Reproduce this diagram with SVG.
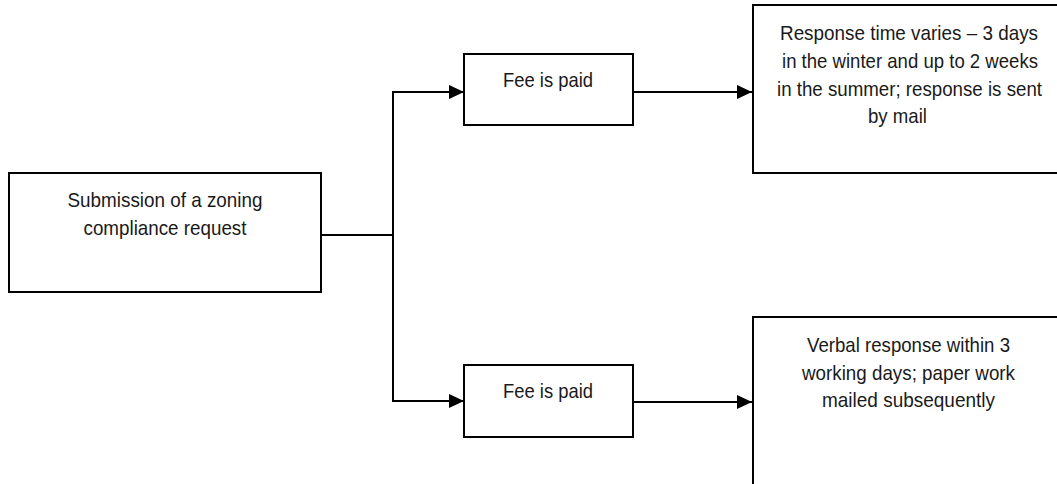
<svg xmlns="http://www.w3.org/2000/svg" width="1057" height="484" viewBox="0 0 1057 484">
<style>
.box{fill:#fff;stroke:#000;stroke-width:2}
.t{font-family:"Liberation Sans",Arial,sans-serif;font-size:21px;fill:#1a1a1a;text-anchor:middle}
.c{fill:none;stroke:#000;stroke-width:2}
</style>
<defs>
<marker id="ah" markerWidth="15" markerHeight="14" viewBox="0 0 15 14" refX="15" refY="7" orient="auto" markerUnits="userSpaceOnUse">
<path d="M0,0 L15,7 L0,14 Z" fill="#000"/>
</marker>
</defs>
<rect width="1057" height="484" fill="#fff"/>
<g id="connectors">
<path class="c" d="M321,235 H393"/>
<path class="c" d="M393,91 V402"/>
<path class="c" d="M393,92 H464" marker-end="url(#ah)"/>
<path class="c" d="M393,401 H464" marker-end="url(#ah)"/>
<path class="c" d="M633,92 H752" marker-end="url(#ah)"/>
<path class="c" d="M633,402 H752" marker-end="url(#ah)"/>
</g>
<g id="submission">
<rect class="box" x="9" y="173" width="312" height="119"/>
<text class="t" x="165" y="207" textLength="195" lengthAdjust="spacingAndGlyphs">Submission of a zoning</text>
<text class="t" x="165" y="235" textLength="163" lengthAdjust="spacingAndGlyphs">compliance request</text>
</g>
<g id="fee1">
<rect class="box" x="464" y="54" width="169" height="71"/>
<text class="t" x="548" y="87" textLength="90" lengthAdjust="spacingAndGlyphs">Fee is paid</text>
</g>
<g id="fee2">
<rect class="box" x="464" y="365" width="169" height="72"/>
<text class="t" x="548" y="398" textLength="90" lengthAdjust="spacingAndGlyphs">Fee is paid</text>
</g>
<g id="response-mail">
<rect class="box" x="753" y="5" width="312" height="168"/>
<text class="t" x="909" y="40" textLength="258" lengthAdjust="spacingAndGlyphs">Response time varies – 3 days</text>
<text class="t" x="910" y="68" textLength="256" lengthAdjust="spacingAndGlyphs">in the winter and up to 2 weeks</text>
<text class="t" x="909.5" y="96" textLength="265" lengthAdjust="spacingAndGlyphs">in the summer; response is sent</text>
<text class="t" x="897.5" y="123" textLength="59" lengthAdjust="spacingAndGlyphs">by mail</text>
</g>
<g id="response-verbal">
<rect class="box" x="753" y="317" width="312" height="170"/>
<text class="t" x="908.5" y="352" textLength="203" lengthAdjust="spacingAndGlyphs">Verbal response within 3</text>
<text class="t" x="908.5" y="380" textLength="213" lengthAdjust="spacingAndGlyphs">working days; paper work</text>
<text class="t" x="908.5" y="407" textLength="173" lengthAdjust="spacingAndGlyphs">mailed subsequently</text>
</g>
</svg>
